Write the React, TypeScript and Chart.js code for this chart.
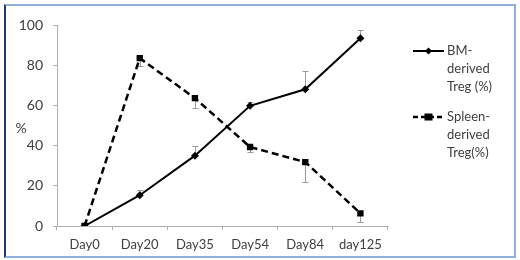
import React, { useEffect, useRef } from "react";
import { Chart, registerables } from "chart.js";

Chart.register(...registerables);

const categories = ["Day0", "Day20", "Day35", "Day54", "Day84", "day125"];
const bmValues = [0, 15.3, 35, 59.8, 68, 93.4];
const bmErrorTop = [0, 18, 40, 61.8, 77, 97.5];
const spleenValues = [0, 83.5, 63.6, 39.3, 31.8, 6.3];
const spleenErrorBottom = [0, 79.8, 58.5, 36.6, 22, 2.1];
const yTicks = [0, 20, 40, 60, 80, 100];
const legendBM = ["BM-", "derived", "Treg (%)"];
const legendSpleen = ["Spleen-", "derived", "Treg(%)"];

const FONT = "Lato, 'Open Sans', sans-serif";
const TEXT = "#404040";

const errorBarPlugin = {
  id: "errorBars",
  beforeDatasetsDraw(chart: any) {
    const ctx = chart.ctx;
    const x = chart.scales.x;
    const y = chart.scales.y;
    ctx.save();
    ctx.strokeStyle = "#9a9a9a";
    ctx.lineWidth = 1;
    const draw = (vals: number[], ends: number[]) => {
      vals.forEach((v, i) => {
        if (ends[i] === v) return;
        const px = Math.round(x.getPixelForValue(i)) + 0.5;
        const y0 = y.getPixelForValue(v);
        const y1 = Math.round(y.getPixelForValue(ends[i])) + 0.5;
        ctx.beginPath();
        ctx.moveTo(px, y0);
        ctx.lineTo(px, y1);
        ctx.moveTo(px - 3, y1);
        ctx.lineTo(px + 3, y1);
        ctx.stroke();
      });
    };
    draw(bmValues, bmErrorTop);
    draw(spleenValues, spleenErrorBottom);
    ctx.restore();
  },
};

const legendPlugin = {
  id: "customLegend",
  afterDraw(chart: any) {
    const ctx = chart.ctx;
    ctx.save();
    ctx.fillStyle = TEXT;
    ctx.font = `14px ${FONT}`;
    ctx.textAlign = "center";
    ctx.textBaseline = "middle";
    ctx.fillText("%", 21, 128);

    const drawEntry = (
      yLine: number,
      lines: string[],
      dashed: boolean,
      square: boolean
    ) => {
      ctx.strokeStyle = "#000";
      ctx.lineWidth = dashed ? 2.5 : 2;
      ctx.setLineDash(dashed ? [5, 3] : []);
      ctx.beginPath();
      ctx.moveTo(413, yLine);
      ctx.lineTo(444, yLine);
      ctx.stroke();
      ctx.setLineDash([]);
      ctx.fillStyle = "#000";
      if (square) {
        ctx.fillRect(428.5 - 4, yLine - 3.5, 8, 7);
      } else {
        ctx.beginPath();
        ctx.moveTo(428.5, yLine - 3.5);
        ctx.lineTo(432, yLine);
        ctx.lineTo(428.5, yLine + 3.5);
        ctx.lineTo(425, yLine);
        ctx.closePath();
        ctx.fill();
      }
      ctx.fillStyle = TEXT;
      ctx.font = `13px ${FONT}`;
      ctx.textAlign = "left";
      ctx.textBaseline = "middle";
      lines.forEach((t, i) => ctx.fillText(t, 447, yLine + i * 18));
    };
    drawEntry(51, legendBM, false, false);
    drawEntry(117, legendSpleen, true, true);
    ctx.restore();
  },
};

export default function App() {
  const ref = useRef<HTMLCanvasElement | null>(null);
  useEffect(() => {
    if (!ref.current) return;
    const chart = new Chart(ref.current, {
      type: "line",
      data: {
        labels: categories,
        datasets: [
          {
            label: "BM-derived Treg (%)",
            data: bmValues,
            borderColor: "#000",
            backgroundColor: "#000",
            borderWidth: 2,
            pointStyle: "rectRot",
            pointRadius: 4,
            pointBorderWidth: 0,
            pointBackgroundColor: "#000",
            tension: 0,
          },
          {
            label: "Spleen-derived Treg(%)",
            data: spleenValues,
            borderColor: "#000",
            backgroundColor: "#000",
            borderWidth: 2.5,
            borderDash: [7, 4],
            pointStyle: "rect",
            pointRadius: 4.5,
            pointBorderWidth: 0,
            pointBackgroundColor: "#000",
            tension: 0,
          },
        ],
      },
      options: {
        animation: false,
        responsive: false,
        maintainAspectRatio: false,
        layout: { padding: { top: 25, right: 132, bottom: 0, left: 0 } },
        plugins: {
          legend: { display: false },
          tooltip: { enabled: false },
        },
        scales: {
          x: {
            offset: true,
            grid: {
              display: true,
              offset: true,
              drawOnChartArea: false,
              drawTicks: true,
              tickLength: 4,
              tickColor: "#b0b0b0",
            },
            border: { display: true, color: "#b0b0b0", dash: [2, 1], width: 1 },
            ticks: {
              color: TEXT,
              font: { family: FONT, size: 13 },
              padding: 7,
              maxRotation: 0,
              autoSkip: false,
            },
            afterFit: (s: any) => {
              s.height = 34;
            },
          },
          y: {
            min: 0,
            max: 100,
            afterBuildTicks: (s: any) => {
              s.ticks = yTicks.map((v) => ({ value: v }));
            },
            grid: {
              display: true,
              drawOnChartArea: false,
              drawTicks: true,
              tickLength: 4,
              tickColor: "#b0b0b0",
            },
            border: { display: true, color: "#b0b0b0", dash: [2, 1], width: 1 },
            ticks: {
              color: TEXT,
              font: { family: FONT, size: 14 },
              padding: 10,
            },
            afterFit: (s: any) => {
              s.width = 57;
            },
          },
        },
      },
      plugins: [errorBarPlugin, legendPlugin],
    });
    return () => chart.destroy();
  }, []);
  return (
    <div style={{ position: "fixed", left: 0, top: 0, width: 520, height: 260, background: "#fff" }}>
      <canvas ref={ref} width={520} height={260} style={{ position: "absolute", left: 0, top: 0 }} />
      <div
        style={{
          position: "absolute",
          left: 4,
          top: 4,
          width: 508,
          height: 250,
          borderTop: "2px solid #8fb0dc",
          borderRight: "2px solid #8fb0dc",
          borderBottom: "2px solid #8fb0dc",
          borderLeft: "2px solid #1f3868",
          pointerEvents: "none",
        }}
      />
    </div>
  );
}
